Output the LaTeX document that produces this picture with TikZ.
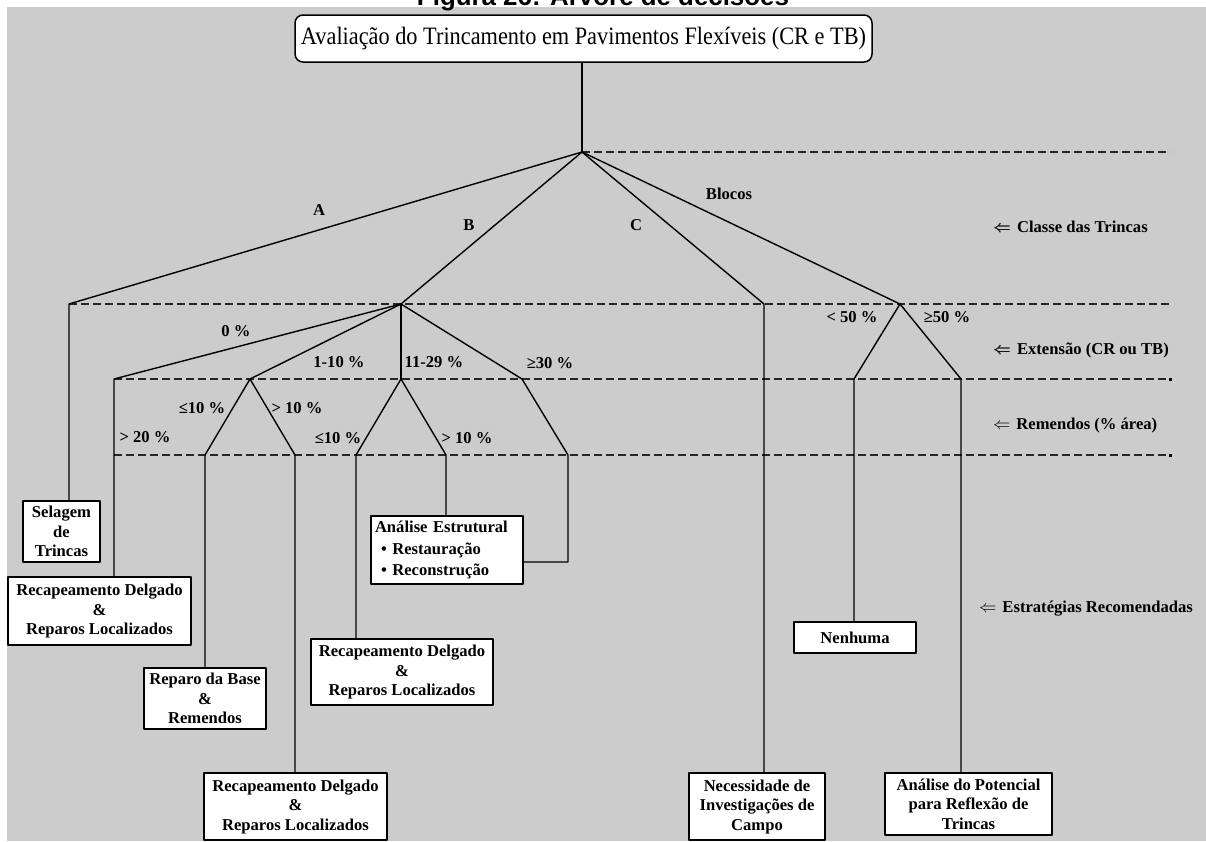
\documentclass[tikz,border=0pt]{standalone}
\usepackage{fontspec}
\usepackage{graphicx}
\setmainfont{Liberation Serif}
\newfontfamily\figfont{Liberation Sans}
\newcommand\myfs{\fontsize{16.6}{19.5}\selectfont}
\newcommand\boldarr{\rlap{$\Leftarrow$}\kern0.6pt$\Leftarrow$}
\definecolor{bggray}{RGB}{204,204,204}
\begin{document}
\begin{tikzpicture}[x=1pt,y=-1pt,line join=round,
  conn/.style={line width=1.4pt, draw=black},
  guide/.style={line width=1.3pt, dash pattern=on 8pt off 4pt, draw=black!85},
  box/.style={draw=black, fill=white, line width=1.5pt, inner sep=0pt, align=center, font=\myfs\bfseries},
  lbl/.style={anchor=base, inner sep=0pt, font=\myfs\bfseries},
  sidelbl/.style={anchor=base west, inner sep=0pt, font=\myfs\bfseries},
]
\useasboundingbox (0,0) rectangle (1206,841);
\clip (0,0) rectangle (1206,841);
\fill[bggray] (7,7) rectangle (1206,841);
\node[anchor=base, inner sep=0pt] (fig) at (603,5) {\resizebox{372pt}{!}{\figfont\bfseries Figura 26: Árvore de decisões}};

% junction coordinates
\coordinate (root) at (582,152);
\coordinate (jA) at (69,304);
\coordinate (jB) at (401,304);
\coordinate (jC) at (764,304);
\coordinate (jD) at (900,304);
\coordinate (b0) at (114,379);
\coordinate (b1) at (250,379);
\coordinate (b2) at (401,379);
\coordinate (b3) at (522,379);
\coordinate (d1) at (854,379);
\coordinate (d2) at (961,379);
\coordinate (k1) at (205,455);
\coordinate (k2) at (295,455);
\coordinate (k3) at (356,455);
\coordinate (k4) at (446,455);
\coordinate (k5) at (568,455);
\coordinate (k5b) at (568,562);
\coordinate (g1e) at (1170,152);
\coordinate (g2e) at (1172,304);
\coordinate (g3s) at (114,379);
\coordinate (g3e) at (1170,379);
\coordinate (g4s) at (114,455);
\coordinate (g4e) at (1170,455);

% dashed level lines
\draw[guide] (root) -- (g1e);
\draw[guide] (jA) -- (g2e);
\draw[guide] (g3s) -- (g3e);
\draw[guide] (g4s) -- (g4e);
\fill (1168.5,377.5) rectangle (1172,381);
\fill (1168.5,453.5) rectangle (1172,457);

% title
\node[draw=black, fill=white, rounded corners=8pt, line width=1.5pt, minimum width=577pt, minimum height=47pt, inner sep=0pt] (title) at (583.5,38.5)
  {\resizebox{565pt}{\height}{\fontsize{25}{25}\selectfont Avaliação do Trincamento em Pavimentos Flexíveis (CR e TB)}};

% boxes
\node[box, minimum width=77pt, minimum height=61pt] (sel) at (61.5,531.5) {Selagem\\de\\Trincas};
\node[box, minimum width=183pt, minimum height=68pt] (rc1) at (99.5,611) {Recapeamento Delgado\\\&\\Reparos Localizados};
\node[box, minimum width=122pt, minimum height=61pt] (base) at (205,698.5) {Reparo da Base\\\&\\Remendos};
\node[box, minimum width=183pt, minimum height=67pt] (rc3) at (295.5,806.5) {Recapeamento Delgado\\\&\\Reparos Localizados};
\node[box, minimum width=182pt, minimum height=66pt] (rc2) at (402,672) {Recapeamento Delgado\\\&\\Reparos Localizados};
\node[box, minimum height=68pt, align=left, text width=144pt, inner sep=4pt] (ana) at (447,550)
  {Análise Estrutural\\[2pt]\hspace*{6pt}\textbullet\ Restauração\\[2pt]\hspace*{6pt}\textbullet\ Reconstrução};
\node[box, minimum width=122pt, minimum height=31pt] (nen) at (855,637.5) {Nenhuma};
\node[box, minimum width=136pt, minimum height=67pt] (nec) at (757,806.5) {Necessidade de\\Investigações de\\Campo};
\node[box, minimum width=167pt, minimum height=62pt] (pot) at (968.5,804) {Análise do Potencial\\para Reflexão de\\Trincas};

% connectors
\draw[conn] (root |- title.south) -- (root);
\draw[conn] (root) -- (jA) -- (jA |- sel.north);
\draw[conn] (root) -- (jB);
\draw[conn] (root) -- (jC) -- (jC |- nec.north);
\draw[conn] (root) -- (jD);
\draw[conn] (jD) -- (d1) -- (d1 |- nen.north);
\draw[conn] (jD) -- (d2) -- (d2 |- pot.north);
\draw[conn] (jB) -- (b0) -- (b0 |- rc1.north);
\draw[conn] (jB) -- (b1);
\draw[conn] (b1) -- (k1) -- (k1 |- base.north);
\draw[conn] (b1) -- (k2) -- (k2 |- rc3.north);
\draw[conn] (jB) -- (b2);
\draw[conn] (b2) -- (k3) -- (k3 |- rc2.north);
\draw[conn] (b2) -- (k4) -- (k4 |- ana.north);
\draw[conn] (jB) -- (b3) -- (k5) -- (k5b) -- (k5b -| ana.east);

% branch labels
\node[lbl] (lA) at (319,215.5) {A};
\node[lbl] (lB) at (469,230.5) {B};
\node[lbl] (lC) at (636,230.5) {C};
\node[lbl] (lBl) at (729,199.5) {Blocos};
\node[lbl] (l0) at (236,336.5) {0 \%};
\node[lbl] (l1) at (339,367.5) {1-10 \%};
\node[lbl] (l2) at (434,367.5) {11-29 \%};
\node[lbl] (l3) at (550,368.5) {≥30 \%};
\node[lbl] (l4) at (202,413.5) {≤10 \%};
\node[lbl] (l5) at (297,413.5) {> 10 \%};
\node[lbl] (l6) at (145,442.5) {> 20 \%};
\node[lbl] (l7) at (338,443.5) {≤10 \%};
\node[lbl] (l8) at (467,443.5) {> 10 \%};
\node[lbl] (l9) at (852,322.5) {< 50 \%};
\node[lbl] (l10) at (947,322.5) {≥50 \%};

% side labels
\node[sidelbl] (s1) at (993,232.5) {\boldarr\hspace{6pt}Classe das Trincas};
\node[sidelbl] (s2) at (993,354.5) {\boldarr\hspace{6pt}Extensão (CR ou TB)};
\node[sidelbl] (s3) at (993,429.5) {$\Leftarrow$\hspace{6pt}Remendos (\% área)};
\node[sidelbl] (s4) at (979,612.5) {$\Leftarrow$\hspace{6pt}Estratégias Recomendadas};
\end{tikzpicture}
\end{document}
